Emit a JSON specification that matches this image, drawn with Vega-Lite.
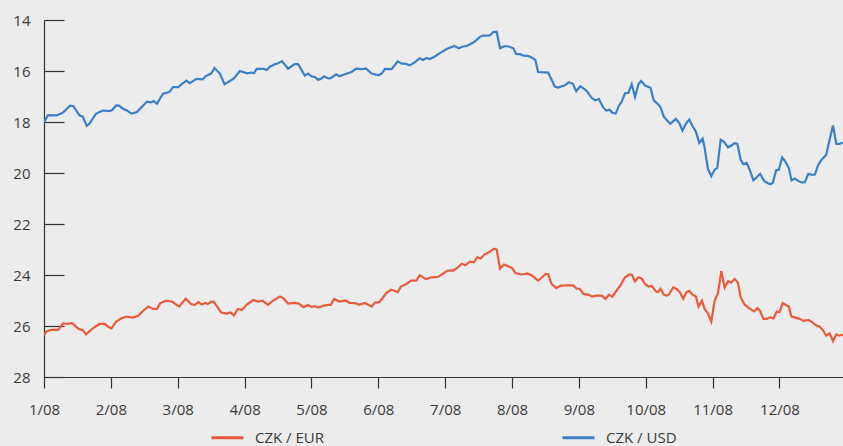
{
  "$schema": "https://vega.github.io/schema/vega-lite/v6.json",
  "width": 799,
  "height": 357,
  "autosize": "none",
  "padding": {"left": 44, "top": 20, "right": 0, "bottom": 69},
  "background": "#ececec",
  "config": {
    "view": {"stroke": null},
    "font": "Open Sans",
    "axis": {"labelFont": "Open Sans", "labelFontSize": 15, "labelColor": "#3a3a3a", "domainColor": "#333333", "tickColor": "#333333", "grid": false, "title": null, "domainWidth": 1.2, "tickWidth": 1.2}
  },
  "data": {"values": [
    {"t":0,"v":18.0,"s":"USD"},{"t":0.06,"v":17.73,"s":"USD"},{"t":0.19,"v":17.74,"s":"USD"},{"t":0.28,"v":17.64,"s":"USD"},{"t":0.39,"v":17.36,"s":"USD"},{"t":0.44,"v":17.38,"s":"USD"},{"t":0.53,"v":17.74,"s":"USD"},{"t":0.58,"v":17.79,"s":"USD"},{"t":0.64,"v":18.15,"s":"USD"},{"t":0.68,"v":18.06,"s":"USD"},{"t":0.78,"v":17.67,"s":"USD"},{"t":0.88,"v":17.55,"s":"USD"},{"t":0.98,"v":17.57,"s":"USD"},{"t":1.02,"v":17.53,"s":"USD"},{"t":1.08,"v":17.35,"s":"USD"},{"t":1.12,"v":17.36,"s":"USD"},{"t":1.18,"v":17.48,"s":"USD"},{"t":1.24,"v":17.55,"s":"USD"},{"t":1.31,"v":17.67,"s":"USD"},{"t":1.39,"v":17.61,"s":"USD"},{"t":1.47,"v":17.39,"s":"USD"},{"t":1.54,"v":17.2,"s":"USD"},{"t":1.6,"v":17.23,"s":"USD"},{"t":1.64,"v":17.18,"s":"USD"},{"t":1.69,"v":17.28,"s":"USD"},{"t":1.78,"v":16.89,"s":"USD"},{"t":1.84,"v":16.85,"s":"USD"},{"t":1.88,"v":16.81,"s":"USD"},{"t":1.93,"v":16.63,"s":"USD"},{"t":2.01,"v":16.63,"s":"USD"},{"t":2.07,"v":16.49,"s":"USD"},{"t":2.13,"v":16.38,"s":"USD"},{"t":2.18,"v":16.48,"s":"USD"},{"t":2.28,"v":16.31,"s":"USD"},{"t":2.37,"v":16.33,"s":"USD"},{"t":2.42,"v":16.2,"s":"USD"},{"t":2.5,"v":16.1,"s":"USD"},{"t":2.55,"v":15.88,"s":"USD"},{"t":2.63,"v":16.1,"s":"USD"},{"t":2.7,"v":16.52,"s":"USD"},{"t":2.78,"v":16.39,"s":"USD"},{"t":2.84,"v":16.29,"s":"USD"},{"t":2.93,"v":16.0,"s":"USD"},{"t":3.04,"v":16.09,"s":"USD"},{"t":3.1,"v":16.06,"s":"USD"},{"t":3.14,"v":16.09,"s":"USD"},{"t":3.18,"v":15.92,"s":"USD"},{"t":3.29,"v":15.92,"s":"USD"},{"t":3.33,"v":15.96,"s":"USD"},{"t":3.38,"v":15.83,"s":"USD"},{"t":3.45,"v":15.74,"s":"USD"},{"t":3.5,"v":15.7,"s":"USD"},{"t":3.56,"v":15.61,"s":"USD"},{"t":3.65,"v":15.91,"s":"USD"},{"t":3.75,"v":15.73,"s":"USD"},{"t":3.8,"v":15.73,"s":"USD"},{"t":3.9,"v":16.18,"s":"USD"},{"t":3.95,"v":16.1,"s":"USD"},{"t":4.0,"v":16.21,"s":"USD"},{"t":4.05,"v":16.24,"s":"USD"},{"t":4.1,"v":16.34,"s":"USD"},{"t":4.14,"v":16.31,"s":"USD"},{"t":4.19,"v":16.21,"s":"USD"},{"t":4.25,"v":16.29,"s":"USD"},{"t":4.29,"v":16.28,"s":"USD"},{"t":4.37,"v":16.13,"s":"USD"},{"t":4.42,"v":16.21,"s":"USD"},{"t":4.5,"v":16.13,"s":"USD"},{"t":4.6,"v":16.04,"s":"USD"},{"t":4.67,"v":15.91,"s":"USD"},{"t":4.75,"v":15.93,"s":"USD"},{"t":4.82,"v":15.91,"s":"USD"},{"t":4.9,"v":16.1,"s":"USD"},{"t":5.0,"v":16.17,"s":"USD"},{"t":5.05,"v":16.1,"s":"USD"},{"t":5.1,"v":15.92,"s":"USD"},{"t":5.2,"v":15.93,"s":"USD"},{"t":5.29,"v":15.62,"s":"USD"},{"t":5.35,"v":15.71,"s":"USD"},{"t":5.4,"v":15.71,"s":"USD"},{"t":5.47,"v":15.78,"s":"USD"},{"t":5.55,"v":15.65,"s":"USD"},{"t":5.62,"v":15.5,"s":"USD"},{"t":5.67,"v":15.57,"s":"USD"},{"t":5.72,"v":15.49,"s":"USD"},{"t":5.77,"v":15.53,"s":"USD"},{"t":5.84,"v":15.44,"s":"USD"},{"t":5.92,"v":15.3,"s":"USD"},{"t":6.03,"v":15.13,"s":"USD"},{"t":6.14,"v":15.02,"s":"USD"},{"t":6.2,"v":15.11,"s":"USD"},{"t":6.27,"v":15.04,"s":"USD"},{"t":6.32,"v":15.02,"s":"USD"},{"t":6.38,"v":14.94,"s":"USD"},{"t":6.44,"v":14.85,"s":"USD"},{"t":6.52,"v":14.66,"s":"USD"},{"t":6.57,"v":14.61,"s":"USD"},{"t":6.67,"v":14.6,"s":"USD"},{"t":6.72,"v":14.47,"s":"USD"},{"t":6.77,"v":14.46,"s":"USD"},{"t":6.82,"v":15.11,"s":"USD"},{"t":6.89,"v":15.02,"s":"USD"},{"t":6.95,"v":15.04,"s":"USD"},{"t":7.02,"v":15.11,"s":"USD"},{"t":7.06,"v":15.33,"s":"USD"},{"t":7.12,"v":15.34,"s":"USD"},{"t":7.17,"v":15.4,"s":"USD"},{"t":7.23,"v":15.41,"s":"USD"},{"t":7.29,"v":15.46,"s":"USD"},{"t":7.35,"v":15.57,"s":"USD"},{"t":7.39,"v":16.04,"s":"USD"},{"t":7.54,"v":16.06,"s":"USD"},{"t":7.64,"v":16.61,"s":"USD"},{"t":7.69,"v":16.65,"s":"USD"},{"t":7.79,"v":16.56,"s":"USD"},{"t":7.85,"v":16.44,"s":"USD"},{"t":7.91,"v":16.5,"s":"USD"},{"t":7.96,"v":16.79,"s":"USD"},{"t":8.02,"v":16.6,"s":"USD"},{"t":8.09,"v":16.72,"s":"USD"},{"t":8.12,"v":16.79,"s":"USD"},{"t":8.19,"v":17.05,"s":"USD"},{"t":8.24,"v":17.15,"s":"USD"},{"t":8.3,"v":17.1,"s":"USD"},{"t":8.36,"v":17.42,"s":"USD"},{"t":8.41,"v":17.55,"s":"USD"},{"t":8.46,"v":17.52,"s":"USD"},{"t":8.5,"v":17.64,"s":"USD"},{"t":8.55,"v":17.67,"s":"USD"},{"t":8.6,"v":17.35,"s":"USD"},{"t":8.64,"v":17.2,"s":"USD"},{"t":8.69,"v":16.87,"s":"USD"},{"t":8.74,"v":16.86,"s":"USD"},{"t":8.79,"v":16.52,"s":"USD"},{"t":8.84,"v":17.02,"s":"USD"},{"t":8.89,"v":16.52,"s":"USD"},{"t":8.93,"v":16.39,"s":"USD"},{"t":8.99,"v":16.57,"s":"USD"},{"t":9.07,"v":16.66,"s":"USD"},{"t":9.12,"v":17.15,"s":"USD"},{"t":9.17,"v":17.27,"s":"USD"},{"t":9.22,"v":17.42,"s":"USD"},{"t":9.27,"v":17.79,"s":"USD"},{"t":9.32,"v":17.94,"s":"USD"},{"t":9.37,"v":18.07,"s":"USD"},{"t":9.45,"v":17.88,"s":"USD"},{"t":9.5,"v":18.03,"s":"USD"},{"t":9.55,"v":18.34,"s":"USD"},{"t":9.6,"v":18.07,"s":"USD"},{"t":9.65,"v":17.9,"s":"USD"},{"t":9.7,"v":18.16,"s":"USD"},{"t":9.75,"v":18.38,"s":"USD"},{"t":9.8,"v":18.82,"s":"USD"},{"t":9.85,"v":18.65,"s":"USD"},{"t":9.88,"v":19.01,"s":"USD"},{"t":9.93,"v":19.84,"s":"USD"},{"t":9.98,"v":20.13,"s":"USD"},{"t":10.03,"v":19.87,"s":"USD"},{"t":10.07,"v":19.8,"s":"USD"},{"t":10.12,"v":18.7,"s":"USD"},{"t":10.17,"v":18.78,"s":"USD"},{"t":10.23,"v":18.99,"s":"USD"},{"t":10.28,"v":18.92,"s":"USD"},{"t":10.33,"v":18.83,"s":"USD"},{"t":10.37,"v":18.86,"s":"USD"},{"t":10.42,"v":19.48,"s":"USD"},{"t":10.46,"v":19.65,"s":"USD"},{"t":10.51,"v":19.6,"s":"USD"},{"t":10.56,"v":19.91,"s":"USD"},{"t":10.61,"v":20.29,"s":"USD"},{"t":10.66,"v":20.17,"s":"USD"},{"t":10.71,"v":20.03,"s":"USD"},{"t":10.77,"v":20.31,"s":"USD"},{"t":10.82,"v":20.39,"s":"USD"},{"t":10.86,"v":20.44,"s":"USD"},{"t":10.9,"v":20.39,"s":"USD"},{"t":10.95,"v":19.89,"s":"USD"},{"t":10.99,"v":19.87,"s":"USD"},{"t":11.04,"v":19.39,"s":"USD"},{"t":11.08,"v":19.52,"s":"USD"},{"t":11.14,"v":19.8,"s":"USD"},{"t":11.18,"v":20.29,"s":"USD"},{"t":11.23,"v":20.22,"s":"USD"},{"t":11.28,"v":20.31,"s":"USD"},{"t":11.33,"v":20.37,"s":"USD"},{"t":11.38,"v":20.36,"s":"USD"},{"t":11.43,"v":20.03,"s":"USD"},{"t":11.49,"v":20.07,"s":"USD"},{"t":11.53,"v":20.06,"s":"USD"},{"t":11.58,"v":19.68,"s":"USD"},{"t":11.63,"v":19.48,"s":"USD"},{"t":11.7,"v":19.28,"s":"USD"},{"t":11.75,"v":18.69,"s":"USD"},{"t":11.8,"v":18.14,"s":"USD"},{"t":11.85,"v":18.86,"s":"USD"},{"t":11.9,"v":18.86,"s":"USD"},{"t":11.95,"v":18.8,"s":"USD"},
    {"t":0,"v":26.36,"s":"EUR"},{"t":0.04,"v":26.2,"s":"EUR"},{"t":0.11,"v":26.15,"s":"EUR"},{"t":0.21,"v":26.15,"s":"EUR"},{"t":0.29,"v":25.89,"s":"EUR"},{"t":0.34,"v":25.92,"s":"EUR"},{"t":0.42,"v":25.89,"s":"EUR"},{"t":0.52,"v":26.12,"s":"EUR"},{"t":0.58,"v":26.16,"s":"EUR"},{"t":0.63,"v":26.33,"s":"EUR"},{"t":0.73,"v":26.09,"s":"EUR"},{"t":0.83,"v":25.92,"s":"EUR"},{"t":0.91,"v":25.92,"s":"EUR"},{"t":0.96,"v":26.03,"s":"EUR"},{"t":1.01,"v":26.09,"s":"EUR"},{"t":1.08,"v":25.83,"s":"EUR"},{"t":1.16,"v":25.7,"s":"EUR"},{"t":1.23,"v":25.63,"s":"EUR"},{"t":1.33,"v":25.67,"s":"EUR"},{"t":1.41,"v":25.6,"s":"EUR"},{"t":1.48,"v":25.41,"s":"EUR"},{"t":1.56,"v":25.24,"s":"EUR"},{"t":1.63,"v":25.33,"s":"EUR"},{"t":1.69,"v":25.33,"s":"EUR"},{"t":1.74,"v":25.1,"s":"EUR"},{"t":1.83,"v":25.01,"s":"EUR"},{"t":1.92,"v":25.05,"s":"EUR"},{"t":2.02,"v":25.24,"s":"EUR"},{"t":2.12,"v":24.93,"s":"EUR"},{"t":2.2,"v":25.14,"s":"EUR"},{"t":2.25,"v":25.18,"s":"EUR"},{"t":2.31,"v":25.06,"s":"EUR"},{"t":2.36,"v":25.16,"s":"EUR"},{"t":2.41,"v":25.1,"s":"EUR"},{"t":2.45,"v":25.14,"s":"EUR"},{"t":2.5,"v":25.04,"s":"EUR"},{"t":2.54,"v":25.05,"s":"EUR"},{"t":2.59,"v":25.24,"s":"EUR"},{"t":2.65,"v":25.47,"s":"EUR"},{"t":2.73,"v":25.51,"s":"EUR"},{"t":2.79,"v":25.47,"s":"EUR"},{"t":2.84,"v":25.59,"s":"EUR"},{"t":2.9,"v":25.33,"s":"EUR"},{"t":2.96,"v":25.37,"s":"EUR"},{"t":3.03,"v":25.17,"s":"EUR"},{"t":3.13,"v":24.98,"s":"EUR"},{"t":3.2,"v":25.04,"s":"EUR"},{"t":3.27,"v":25.01,"s":"EUR"},{"t":3.35,"v":25.17,"s":"EUR"},{"t":3.43,"v":25.0,"s":"EUR"},{"t":3.53,"v":24.84,"s":"EUR"},{"t":3.58,"v":24.91,"s":"EUR"},{"t":3.65,"v":25.12,"s":"EUR"},{"t":3.75,"v":25.09,"s":"EUR"},{"t":3.81,"v":25.12,"s":"EUR"},{"t":3.88,"v":25.26,"s":"EUR"},{"t":3.95,"v":25.18,"s":"EUR"},{"t":4.0,"v":25.25,"s":"EUR"},{"t":4.05,"v":25.22,"s":"EUR"},{"t":4.1,"v":25.28,"s":"EUR"},{"t":4.17,"v":25.21,"s":"EUR"},{"t":4.25,"v":25.17,"s":"EUR"},{"t":4.29,"v":25.17,"s":"EUR"},{"t":4.34,"v":24.94,"s":"EUR"},{"t":4.42,"v":25.04,"s":"EUR"},{"t":4.51,"v":25.0,"s":"EUR"},{"t":4.57,"v":25.09,"s":"EUR"},{"t":4.65,"v":25.1,"s":"EUR"},{"t":4.71,"v":25.17,"s":"EUR"},{"t":4.8,"v":25.1,"s":"EUR"},{"t":4.9,"v":25.24,"s":"EUR"},{"t":4.95,"v":25.08,"s":"EUR"},{"t":5.02,"v":25.06,"s":"EUR"},{"t":5.12,"v":24.71,"s":"EUR"},{"t":5.19,"v":24.58,"s":"EUR"},{"t":5.22,"v":24.6,"s":"EUR"},{"t":5.29,"v":24.67,"s":"EUR"},{"t":5.34,"v":24.45,"s":"EUR"},{"t":5.42,"v":24.35,"s":"EUR"},{"t":5.49,"v":24.22,"s":"EUR"},{"t":5.57,"v":24.21,"s":"EUR"},{"t":5.62,"v":24.01,"s":"EUR"},{"t":5.71,"v":24.16,"s":"EUR"},{"t":5.8,"v":24.09,"s":"EUR"},{"t":5.9,"v":24.07,"s":"EUR"},{"t":5.97,"v":23.94,"s":"EUR"},{"t":6.04,"v":23.83,"s":"EUR"},{"t":6.12,"v":23.83,"s":"EUR"},{"t":6.18,"v":23.72,"s":"EUR"},{"t":6.25,"v":23.56,"s":"EUR"},{"t":6.3,"v":23.62,"s":"EUR"},{"t":6.37,"v":23.48,"s":"EUR"},{"t":6.43,"v":23.5,"s":"EUR"},{"t":6.48,"v":23.3,"s":"EUR"},{"t":6.53,"v":23.35,"s":"EUR"},{"t":6.59,"v":23.19,"s":"EUR"},{"t":6.67,"v":23.09,"s":"EUR"},{"t":6.73,"v":22.97,"s":"EUR"},{"t":6.77,"v":23.0,"s":"EUR"},{"t":6.82,"v":23.75,"s":"EUR"},{"t":6.88,"v":23.59,"s":"EUR"},{"t":6.94,"v":23.66,"s":"EUR"},{"t":7.0,"v":23.72,"s":"EUR"},{"t":7.05,"v":23.92,"s":"EUR"},{"t":7.14,"v":23.98,"s":"EUR"},{"t":7.23,"v":23.94,"s":"EUR"},{"t":7.29,"v":24.01,"s":"EUR"},{"t":7.39,"v":24.22,"s":"EUR"},{"t":7.45,"v":24.09,"s":"EUR"},{"t":7.5,"v":23.96,"s":"EUR"},{"t":7.54,"v":23.96,"s":"EUR"},{"t":7.59,"v":24.35,"s":"EUR"},{"t":7.66,"v":24.51,"s":"EUR"},{"t":7.73,"v":24.42,"s":"EUR"},{"t":7.84,"v":24.41,"s":"EUR"},{"t":7.91,"v":24.41,"s":"EUR"},{"t":7.97,"v":24.54,"s":"EUR"},{"t":8.01,"v":24.54,"s":"EUR"},{"t":8.07,"v":24.74,"s":"EUR"},{"t":8.14,"v":24.77,"s":"EUR"},{"t":8.2,"v":24.85,"s":"EUR"},{"t":8.26,"v":24.81,"s":"EUR"},{"t":8.34,"v":24.81,"s":"EUR"},{"t":8.4,"v":24.94,"s":"EUR"},{"t":8.45,"v":24.77,"s":"EUR"},{"t":8.5,"v":24.85,"s":"EUR"},{"t":8.56,"v":24.62,"s":"EUR"},{"t":8.62,"v":24.41,"s":"EUR"},{"t":8.69,"v":24.09,"s":"EUR"},{"t":8.75,"v":23.98,"s":"EUR"},{"t":8.79,"v":23.98,"s":"EUR"},{"t":8.84,"v":24.25,"s":"EUR"},{"t":8.89,"v":24.09,"s":"EUR"},{"t":8.94,"v":24.14,"s":"EUR"},{"t":8.99,"v":24.35,"s":"EUR"},{"t":9.04,"v":24.45,"s":"EUR"},{"t":9.09,"v":24.43,"s":"EUR"},{"t":9.15,"v":24.64,"s":"EUR"},{"t":9.18,"v":24.67,"s":"EUR"},{"t":9.22,"v":24.54,"s":"EUR"},{"t":9.27,"v":24.77,"s":"EUR"},{"t":9.31,"v":24.81,"s":"EUR"},{"t":9.35,"v":24.75,"s":"EUR"},{"t":9.41,"v":24.49,"s":"EUR"},{"t":9.46,"v":24.55,"s":"EUR"},{"t":9.51,"v":24.67,"s":"EUR"},{"t":9.56,"v":24.93,"s":"EUR"},{"t":9.61,"v":24.67,"s":"EUR"},{"t":9.65,"v":24.62,"s":"EUR"},{"t":9.7,"v":24.77,"s":"EUR"},{"t":9.75,"v":24.84,"s":"EUR"},{"t":9.79,"v":25.24,"s":"EUR"},{"t":9.84,"v":25.01,"s":"EUR"},{"t":9.88,"v":25.33,"s":"EUR"},{"t":9.93,"v":25.5,"s":"EUR"},{"t":9.98,"v":25.83,"s":"EUR"},{"t":10.03,"v":25.01,"s":"EUR"},{"t":10.08,"v":24.71,"s":"EUR"},{"t":10.13,"v":23.85,"s":"EUR"},{"t":10.18,"v":24.49,"s":"EUR"},{"t":10.23,"v":24.25,"s":"EUR"},{"t":10.28,"v":24.29,"s":"EUR"},{"t":10.33,"v":24.15,"s":"EUR"},{"t":10.38,"v":24.31,"s":"EUR"},{"t":10.42,"v":24.88,"s":"EUR"},{"t":10.48,"v":25.17,"s":"EUR"},{"t":10.56,"v":25.33,"s":"EUR"},{"t":10.62,"v":25.43,"s":"EUR"},{"t":10.67,"v":25.3,"s":"EUR"},{"t":10.71,"v":25.41,"s":"EUR"},{"t":10.76,"v":25.72,"s":"EUR"},{"t":10.81,"v":25.72,"s":"EUR"},{"t":10.86,"v":25.66,"s":"EUR"},{"t":10.91,"v":25.7,"s":"EUR"},{"t":10.96,"v":25.43,"s":"EUR"},{"t":11.0,"v":25.46,"s":"EUR"},{"t":11.05,"v":25.1,"s":"EUR"},{"t":11.09,"v":25.17,"s":"EUR"},{"t":11.14,"v":25.24,"s":"EUR"},{"t":11.18,"v":25.63,"s":"EUR"},{"t":11.24,"v":25.67,"s":"EUR"},{"t":11.3,"v":25.72,"s":"EUR"},{"t":11.36,"v":25.8,"s":"EUR"},{"t":11.43,"v":25.76,"s":"EUR"},{"t":11.48,"v":25.83,"s":"EUR"},{"t":11.54,"v":25.96,"s":"EUR"},{"t":11.6,"v":26.03,"s":"EUR"},{"t":11.65,"v":26.16,"s":"EUR"},{"t":11.7,"v":26.38,"s":"EUR"},{"t":11.75,"v":26.29,"s":"EUR"},{"t":11.8,"v":26.59,"s":"EUR"},{"t":11.85,"v":26.33,"s":"EUR"},{"t":11.9,"v":26.38,"s":"EUR"},{"t":11.95,"v":26.33,"s":"EUR"}
  ]},
  "mark": {"type": "line", "strokeWidth": 2.2, "clip": true},
  "encoding": {
    "x": {
      "field": "t", "type": "quantitative",
      "scale": {"domain": [0, 11.95], "nice": false, "zero": false},
      "axis": {"values": [0,1,2,3,4,5,6,7,8,9,10,11], "labelExpr": "(datum.value + 1) + '/08'", "tickSize": 11, "labelPadding": 14, "labelFlush": false, "labelOverlap": false}
    },
    "y": {
      "field": "v", "type": "quantitative",
      "scale": {"domain": [14, 28], "reverse": true, "nice": false, "zero": false},
      "axis": {"values": [14,16,18,20,22,24,26,28], "tickSize": -20, "labelPadding": 34, "labelFlush": false, "labelOverlap": false}
    },
    "color": {
      "field": "s", "type": "nominal",
      "scale": {"domain": ["EUR", "USD"], "range": ["#ec5a3c", "#3a80c8"]},
      "legend": {
        "title": null, "orient": "none", "legendX": 166, "legendY": 400, "direction": "horizontal",
        "symbolType": "stroke", "symbolSize": 1024, "symbolStrokeWidth": 3,
        "labelFont": "Open Sans", "labelFontSize": 15, "labelColor": "#3a3a3a", "labelOffset": 10, "columnPadding": 228,
        "labelExpr": "datum.label == 'EUR' ? 'CZK /  EUR' : 'CZK / USD'"
      }
    }
  }
}
